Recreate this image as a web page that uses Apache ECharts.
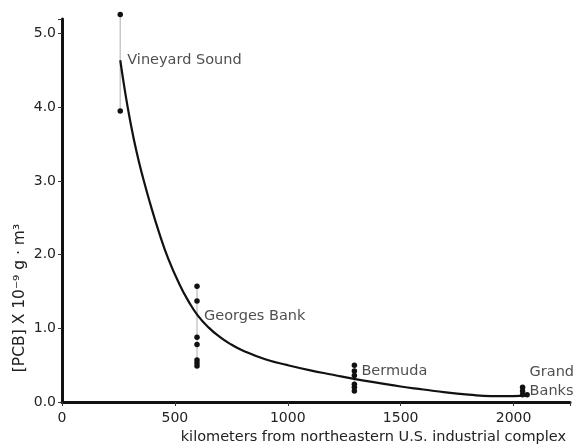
<!DOCTYPE html>
<html>
<head>
<meta charset="utf-8">
<script src="https://cdn.jsdelivr.net/npm/echarts@6/dist/echarts.min.js"></script>
<style>
html, body { margin: 0; padding: 0; background: #fff; }
#chart { width: 579px; height: 446px; }
</style>
</head>
<body>
<div id="chart"></div>
<script>
// measured PCB values at each site (km, value)
var vineyardKm = 258;
var vineyardVals = [5.26, 3.95];
var georgesKm = 598;
var georgesVals = [1.57, 1.37, 0.88, 0.78, 0.57, 0.53, 0.49];
var bermudaKm = 1295;
var bermudaVals = [0.50, 0.42, 0.36, 0.24, 0.20, 0.15];
var grandKm = 2040;
var grandVals = [0.20, 0.15, 0.10];
var grandExtraKm = 2060;
var grandExtraVals = [0.10];

// fitted curve
var curveKm = [258, 280, 300, 330, 360, 390, 430, 470, 520, 560, 600, 650, 700, 750, 800, 900, 1000, 1100, 1200, 1300, 1400, 1500, 1600, 1700, 1800, 1900, 2000, 2060];
var curveVals = [4.64, 4.20, 3.85, 3.40, 3.03, 2.70, 2.30, 1.95, 1.60, 1.37, 1.18, 1.01, 0.88, 0.78, 0.70, 0.58, 0.50, 0.43, 0.37, 0.31, 0.26, 0.21, 0.17, 0.13, 0.10, 0.08, 0.08, 0.09];

// site labels (km, value at label anchor)
var siteNames = ['Vineyard Sound', 'Georges Bank', 'Bermuda', 'Grand\nBanks'];
var siteKm = [258, 598, 1295, 2040];
var siteLabelVals = [4.64, 1.17, 0.42, 0.27];

var yTicks = [0, 1, 2, 3, 4, 5];
var xTicks = [0, 500, 1000, 1500, 2000];

function pts(km, vals) {
  var out = [];
  for (var i = 0; i < vals.length; i++) out.push([km, vals[i]]);
  return out;
}
function rangeSeries(km, vals) {
  return {
    type: 'line', silent: true, clip: false, showSymbol: false, z: 1,
    lineStyle: { color: '#c8c8c8', width: 1.5 },
    data: [[km, Math.min.apply(null, vals)], [km, Math.max.apply(null, vals)]]
  };
}

var dots = [].concat(pts(vineyardKm, vineyardVals), pts(georgesKm, georgesVals),
  pts(bermudaKm, bermudaVals), pts(grandKm, grandVals), pts(grandExtraKm, grandExtraVals));

var curve = [];
for (var i = 0; i < curveKm.length; i++) curve.push([curveKm[i], curveVals[i]]);

var labels = [];
for (var j = 0; j < siteNames.length; j++) labels.push({ value: [siteKm[j], siteLabelVals[j]], name: siteNames[j] });

var font = 'DejaVu Sans';
var chart = echarts.init(document.getElementById('chart'));
chart.setOption({
  animation: false,
  textStyle: { fontFamily: font },
  grid: { left: 62, right: 9, top: 19, bottom: 44 },
  xAxis: {
    type: 'value', min: 0, max: 2250, interval: 500,
    axisLine: { lineStyle: { color: '#111', width: 3 } },
    axisTick: { length: 4, lineStyle: { color: '#333' } },
    splitLine: { show: false },
    axisLabel: {
      color: '#222', fontSize: 14, margin: 9,
      formatter: function (v) { return xTicks.indexOf(v) >= 0 ? String(v) : ''; }
    }
  },
  yAxis: {
    type: 'value', min: 0, max: 5.2, interval: 1,
    axisLine: { show: true, lineStyle: { color: '#111', width: 3 } },
    axisTick: { show: true, length: 4, lineStyle: { color: '#333' } },
    splitLine: { show: false },
    axisLabel: {
      color: '#222', fontSize: 14, margin: 6,
      formatter: function (v) { return yTicks.indexOf(v) >= 0 ? v.toFixed(1) : ''; }
    }
  },
  graphic: [
    {
      type: 'text', right: 13, top: 430,
      style: { text: 'kilometers from northeastern U.S. industrial complex', fill: '#222', font: '14.5px "DejaVu Sans"' }
    },
    {
      type: 'text', x: 20, y: 298, rotation: Math.PI / 2,
      style: { text: '[PCB] X 10\u207B\u2079 g \u00B7 m\u00B3', fill: '#222', font: '15.5px "DejaVu Sans"', align: 'center', verticalAlign: 'middle' }
    }
  ],
  series: [
    rangeSeries(vineyardKm, vineyardVals),
    rangeSeries(georgesKm, georgesVals),
    rangeSeries(bermudaKm, bermudaVals),
    {
      name: 'curve', type: 'line', data: curve, smooth: 0.5, showSymbol: false, z: 2,
      lineStyle: { color: '#111', width: 2.2 }
    },
    {
      name: 'samples', type: 'scatter', data: dots, symbolSize: 5.5, clip: false, z: 3,
      itemStyle: { color: '#111', opacity: 1 }
    },
    {
      name: 'sites', type: 'scatter', data: labels, symbolSize: 0, z: 4,
      label: {
        show: true, position: 'right', distance: 7, color: '#222', fontSize: 14.5, lineHeight: 19,
        formatter: function (p) { return p.name; }
      }
    }
  ]
});
</script>
</body>
</html>
